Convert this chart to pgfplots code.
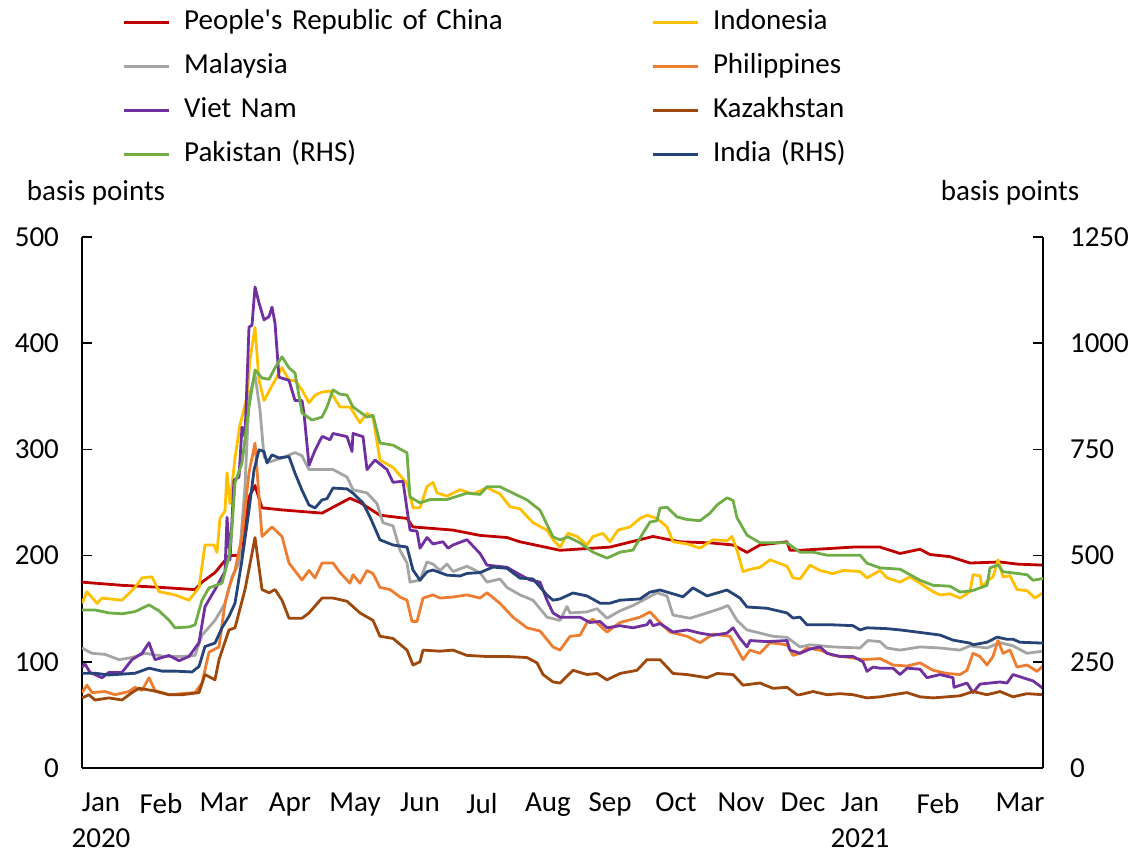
\documentclass[border=0pt]{standalone}
\usepackage{fontspec}
\setmainfont{Carlito}
\usepackage{pgfplots}
\pgfplotsset{compat=1.18}
\definecolor{cchn}{HTML}{C00000}
\definecolor{cidn}{HTML}{FFC000}
\definecolor{cmys}{HTML}{A5A5A5}
\definecolor{cphl}{HTML}{ED7D31}
\definecolor{cvnm}{HTML}{7030A0}
\definecolor{ckaz}{HTML}{9E480E}
\definecolor{cpak}{HTML}{70AD47}
\definecolor{cind}{HTML}{264478}
\newcommand\chartfont{\fontsize{14.5}{18}\selectfont}
\pgfplotsset{
 base/.style={scale only axis,width=480.5pt,height=265.5pt,at={(0,0)},anchor=south west,
   xmin=0,xmax=961,ymin=0,font=\chartfont,
   /pgf/number format/assume math mode=true,/pgf/number format/1000 sep={},
   tick align=inside,major tick length=5pt,
   axis line style={black,line width=0.75pt,-},tick style={black,line width=0.75pt},
   every axis plot/.append style={line width=1.4pt,line join=round}},
}
\begin{document}
\begin{tikzpicture}
\useasboundingbox (-41pt,-43pt) rectangle (526pt,384pt);
\begin{axis}[base,ymax=500,ytick={0,100,...,500},
 axis y line*=left,axis x line*=bottom,
 xtick={19,79,142,208,273,338,400,466,528,594,659,721,778,856,938},
 xticklabels={{Jan\\2020},Feb,Mar,Apr,May,Jun,Jul,Aug,Sep,Oct,Nov,Dec,{Jan\\2021},Feb,Mar},
 xtick style={draw=none},xticklabel style={align=center,yshift=-9pt},
 yticklabel style={xshift=-8pt},
 ylabel={basis points},ylabel style={rotate=-90,at={(axis description cs:0.0146,1.0829)},anchor=center}]
% People's Republic of China
\addplot[cchn] coordinates {(0,175)(40,172)(80,170)(113,168)(120,175)(133,184)(147,200)(160,200)(167,255)(173,266)(180,245)(200,243)(240,240)
 (268,254)(278,250)(298,238)(325,235)(331,227)(371,224)(398,219)(425,217)(438,213)(478,205)
 (528,208)(545,212)(571,218)(598,213)(628,212)(651,210)(665,203)(678,210)(705,213)(708,205)(718,205)
 (771,208)(798,208)(818,202)(838,206)(848,201)(868,199)(888,193)(918,194)(935,192)(961,191)};
% Indonesia
\addplot[cidn] coordinates {(0,155)(5,166)(15,155)(20,160)(40,158)(53,170)(60,179)(70,180)(77,166)(93,163)(107,158)(117,170)(123,210)(132,210)(135,203)(138,235)(143,242)(145,278)(148,249)(153,292)(158,323)(165,349)(168,384)(173,415)(177,365)(182,346)(190,360)(200,377)(207,365)(213,365)(220,356)(227,344)(233,351)(240,354)
 (248,355)(258,340)(268,340)(278,325)(285,334)(291,330)(298,290)(311,283)(325,268)(331,245)(338,245)(345,265)(351,269)(355,259)(365,256)(378,262)(391,258)(405,264)(418,258)(428,246)(438,244)(451,231)(465,224)(471,215)(478,208)
 (486,221)(495,218)(505,210)(511,218)(521,221)(528,213)(536,224)(548,227)(558,235)(565,238)(575,235)(585,227)(591,213)(605,211)(618,207)(631,215)(645,214)(650,218)(655,205)(661,185)(668,187)(678,189)(688,196)(705,190)(711,179)(718,178)
 (728,191)(738,186)(751,183)(761,186)(778,185)(785,179)(798,186)(805,179)(818,175)(828,180)(838,174)(851,166)(858,163)(868,164)(878,160)(888,166)(891,182)(898,181)(900,170)(905,176)(911,180)(916,196)(921,180)(928,181)(935,168)(945,167)(953,160)(961,165)};
% Malaysia
\addplot[cmys] coordinates {(0,113)(10,108)(23,107)(37,102)(50,104)(63,108)(83,105)(100,105)(113,106)(120,125)(133,139)(143,155)(150,180)(157,193)(163,265)(167,349)(173,370)(178,337)(182,293)(187,288)(200,292)(213,297)(220,294)(227,281)(240,281)
 (251,281)(265,274)(271,262)(285,259)(295,249)(301,231)(311,228)(318,205)(325,193)(328,175)(338,177)(345,194)(351,192)(358,186)(365,192)(371,185)(385,190)(398,184)(405,175)(418,178)(425,170)(438,163)(451,158)(465,142)(478,139)
 (485,152)(488,146)(505,147)(515,150)(525,141)(538,148)(551,153)(565,160)(575,165)(585,162)(591,144)(608,141)(625,146)(638,150)(646,153)(655,139)(665,130)(678,127)(691,124)(705,123)(718,114)
 (728,116)(751,114)(778,113)(786,120)(798,119)(805,113)(818,111)(838,114)(858,113)(878,111)(888,115)(905,113)(918,118)(931,115)(945,108)(961,110)};
% Philippines
\addplot[cphl] coordinates {(0,71)(5,78)(10,71)(23,72)(33,69)(47,72)(53,76)(60,73)(67,85)(73,73)(87,69)(113,71)(120,80)(127,109)(137,114)(143,155)(147,170)(153,186)(160,218)(167,278)(173,306)(180,218)(190,227)(200,218)(207,193)(220,177)(227,186)(233,179)(240,193)
 (251,193)(258,184)(268,174)(271,182)(278,174)(285,186)(291,183)(298,170)(308,168)(318,161)(325,158)(330,138)(335,138)(341,160)(351,163)(358,160)(371,161)(385,163)(398,160)(405,165)(418,155)(431,142)(445,132)(458,129)(471,114)(478,111)
 (488,124)(498,125)(505,137)(511,140)(525,128)(538,137)(558,142)(568,147)(578,137)(588,128)(605,124)(618,118)(631,126)(648,124)(661,102)(668,111)(678,108)(688,118)(705,116)(711,106)(718,108)
 (725,113)(738,111)(751,106)(768,104)(781,102)(798,103)(811,97)(825,96)(838,99)(851,92)(865,89)(878,88)(885,92)(891,108)(898,105)(905,97)(911,105)(916,120)(921,108)(928,111)(935,95)(945,97)(955,91)(961,96)};
% Viet Nam
\addplot[cvnm] coordinates {(0,95)(3,98)(8,90)(20,85)(27,90)(40,90)(50,102)(60,108)(67,118)(73,102)(87,106)(97,101)(107,105)(117,118)(123,152)(133,168)(143,185)(145,236)(148,196)(152,271)(157,274)(160,321)(163,312)(167,415)(170,417)(173,453)(177,438)(182,422)(187,425)(190,434)(193,419)(197,368)(207,365)(213,346)(220,346)(222,334)(227,285)(233,299)(240,312)
 (241,312)(248,309)(251,315)(265,312)(270,298)(271,315)(281,312)(285,281)(293,290)(305,281)(311,269)(321,270)(328,224)(335,223)(338,207)(345,217)(351,211)(361,213)(366,207)(371,210)(385,215)(398,202)(405,191)(425,189)(438,182)(448,177)(458,175)(465,158)(471,146)(478,142)
 (498,142)(508,137)(518,138)(525,132)(538,134)(551,132)(565,135)(568,139)(571,134)(578,136)(591,128)(605,130)(618,127)(631,125)(645,127)(651,132)(658,122)(665,114)(668,120)(685,119)(705,120)(708,111)(718,108)
 (728,112)(738,114)(745,108)(758,105)(771,105)(781,100)(785,91)(791,95)(798,94)(811,94)(818,88)(825,94)(838,93)(845,85)(858,88)(871,85)(872,76)(885,80)(891,71)(898,79)(908,80)(918,81)(925,80)(931,88)(941,85)(951,82)(961,75)};
% Kazakhstan
\addplot[ckaz] coordinates {(0,66)(7,69)(13,64)(27,66)(40,64)(50,71)(57,75)(70,73)(87,69)(100,69)(117,71)(123,88)(133,83)(137,102)(147,130)(153,132)(163,168)(170,202)(173,217)(180,168)(187,165)(193,168)(200,158)(207,141)(220,141)(227,146)(240,160)
 (251,160)(265,157)(278,146)(291,139)(298,124)(311,122)(325,111)(331,97)(338,100)(341,111)(358,110)(371,111)(385,106)(405,105)(425,105)(445,104)(455,99)(461,88)(471,81)(478,80)
 (491,92)(505,88)(515,89)(525,83)(538,89)(555,92)(565,102)(578,102)(591,89)(605,88)(625,85)(635,89)(651,88)(661,78)(678,80)(691,75)(705,76)(715,69)(718,69)
 (731,72)(745,69)(758,70)(771,69)(785,66)(798,67)(811,69)(825,71)(838,67)(851,66)(865,67)(878,68)(891,72)(905,69)(918,72)(931,67)(945,70)(961,69)};
\end{axis}
\begin{axis}[base,ymax=1250,ytick={0,250,...,1250},
 axis y line*=right,axis x line=none,
 yticklabel style={xshift=10pt},
 ylabel={basis points},ylabel style={rotate=-90,at={(axis description cs:0.9657,1.0829)},anchor=center},
 legend columns=2,legend cell align=left,
 legend image code/.code={\draw[#1,line width=1.4pt] (0pt,0pt) -- (22.5pt,0pt);},
 legend style={at={(axis description cs:0,1)},anchor=north west,xshift=20pt,yshift=114pt,
   draw=none,fill=none,inner sep=0pt,row sep=9pt,column sep=7pt,font=\chartfont,
   nodes={inner sep=0pt,text height=10pt,text depth=3pt,text width=226.5pt,align=left,anchor=west}}]
\addlegendimage{cchn}
\addlegendimage{cidn}
\addlegendimage{cmys}
\addlegendimage{cphl}
\addlegendimage{cvnm}
\addlegendimage{ckaz}
% Pakistan (RHS)
\addplot[cpak] coordinates {(0,372)(13,372)(27,365)(40,363)(53,368)(67,384)(77,370)(87,348)(93,330)(107,332)(113,337)(120,395)(127,424)(140,435)(147,497)(150,565)(153,671)(160,718)(167,850)(173,937)(180,918)(187,915)(193,942)(200,968)(207,942)(213,930)(220,836)(230,819)(240,826)
 (245,850)(251,890)(258,880)(265,878)(271,850)(285,826)(291,830)(298,765)(311,760)(325,742)(328,638)(338,624)(348,632)(365,632)(385,647)(398,644)(405,662)(418,662)(431,647)(445,631)(458,607)(471,544)(478,537)
 (486,544)(498,530)(511,508)(525,494)(538,508)(551,513)(561,553)(568,579)(575,582)(578,612)(585,614)(595,591)(605,585)(618,582)(628,600)(635,619)(645,636)(651,630)(655,589)(665,548)(678,530)(705,530)(718,508)
 (731,508)(745,501)(778,501)(785,482)(798,471)(818,468)(838,442)(851,430)(868,428)(878,414)(891,418)(905,430)(908,471)(916,478)(921,462)(935,458)(945,455)(951,442)(961,446)};
% India (RHS)
\addplot[cind] coordinates {(0,223)(13,223)(27,219)(53,223)(67,235)(80,228)(93,228)(110,226)(117,239)(123,286)(133,294)(140,330)(147,357)(153,388)(160,490)(167,607)(172,701)(177,749)(182,745)(185,718)(190,737)(197,730)(207,733)(213,694)(220,654)(227,619)(233,612)(240,631)
 (245,634)(251,659)(265,657)(271,647)(281,624)(288,591)(298,537)(311,525)(325,520)(331,466)(338,442)(345,462)(351,466)(365,454)(378,452)(385,458)(398,460)(411,473)(425,470)(438,447)(451,445)(465,407)(471,395)(478,398)
 (491,412)(505,405)(518,388)(528,388)(538,395)(558,398)(568,414)(578,419)(591,410)(601,403)(611,424)(625,405)(645,419)(658,400)(665,379)(685,376)(705,365)(711,353)(718,355)
 (725,337)(738,337)(751,337)(771,335)(778,325)(785,330)(805,328)(818,325)(835,320)(858,313)(871,301)(888,294)(891,290)(905,296)(915,308)(925,303)(931,303)(938,296)(961,294)};
\legend{People\textquotesingle s Republic of China,Indonesia,Malaysia,Philippines,Viet Nam,Kazakhstan,Pakistan (RHS),India (RHS)}
\end{axis}
\end{tikzpicture}
\end{document}
